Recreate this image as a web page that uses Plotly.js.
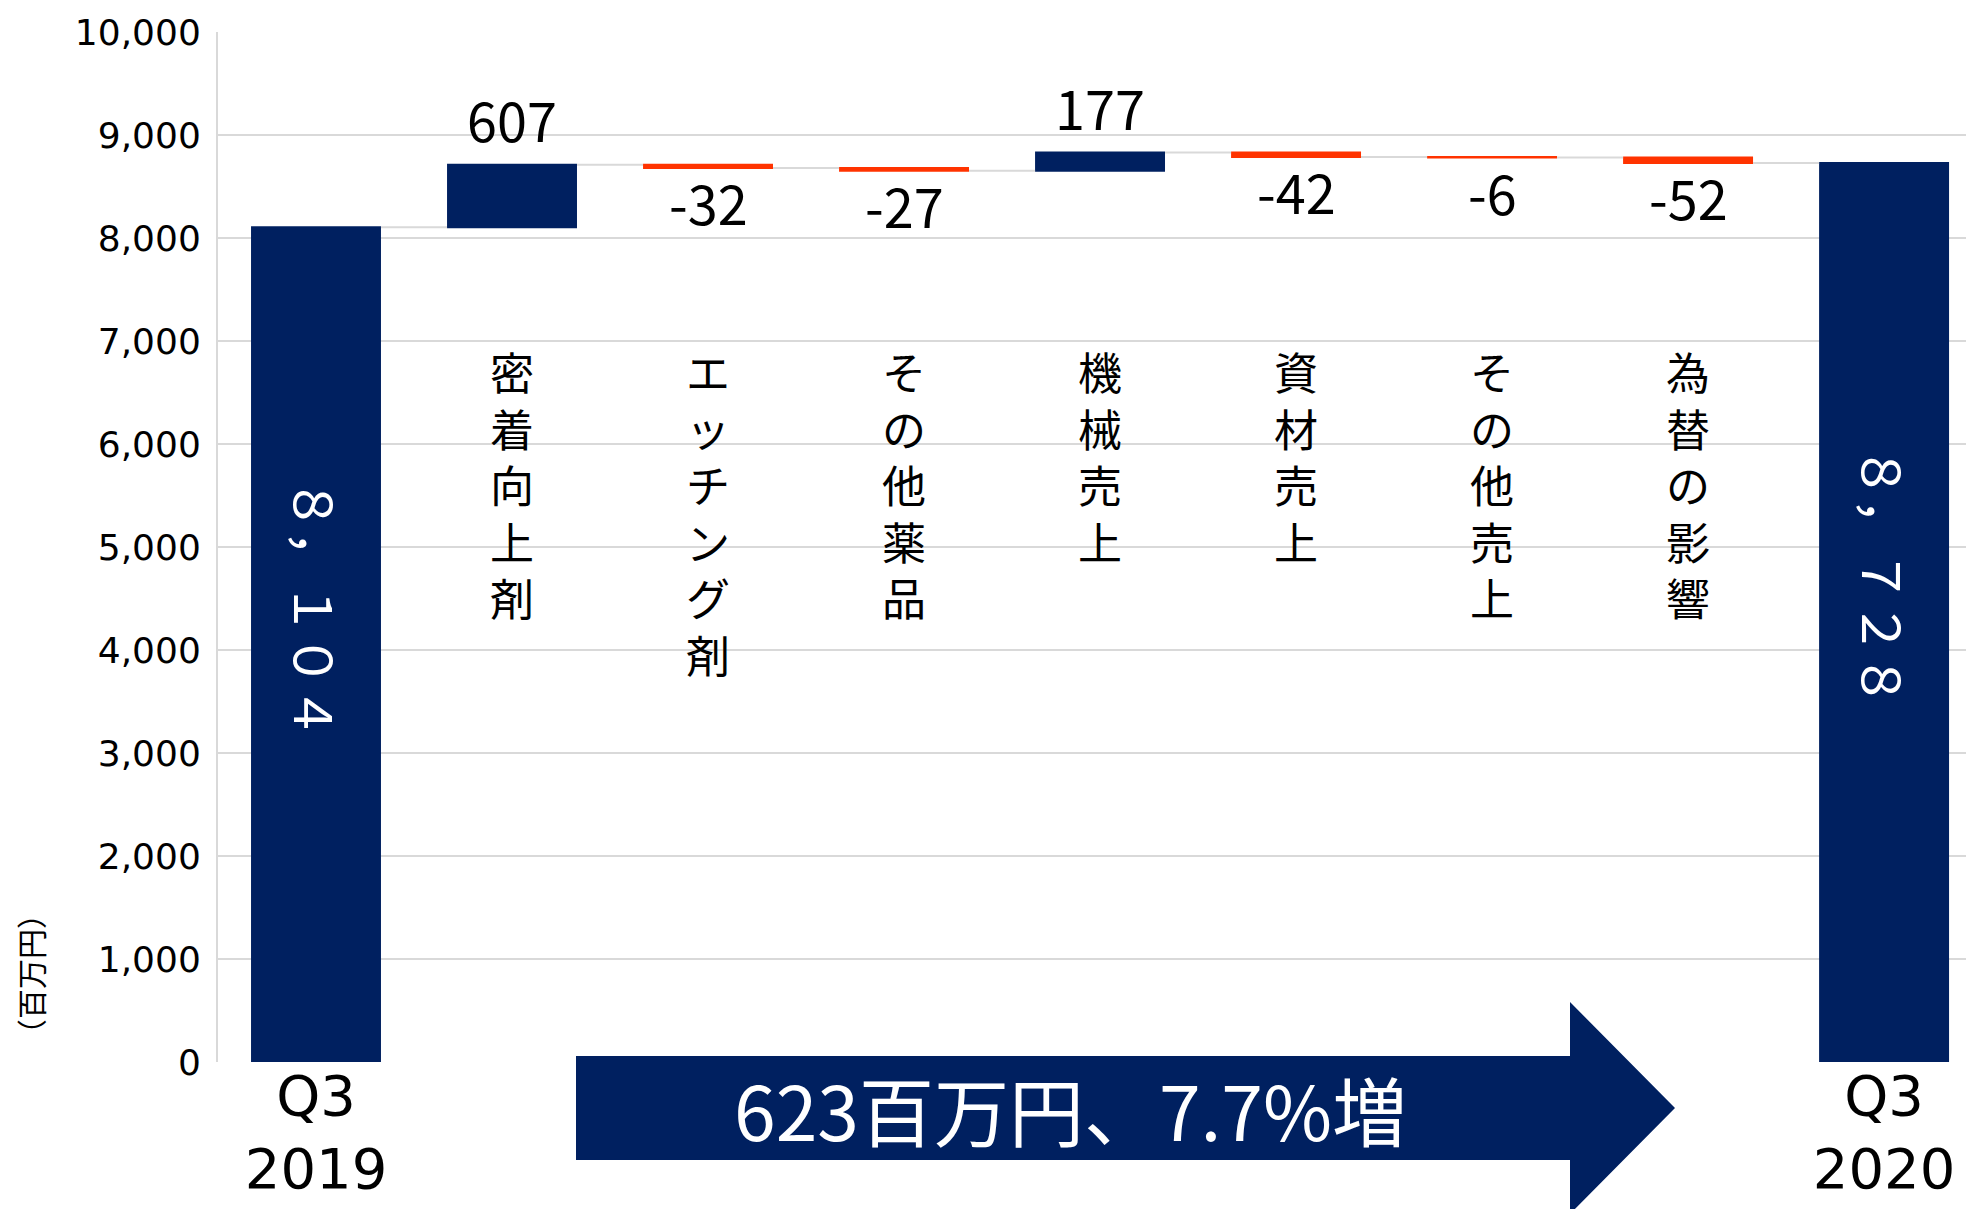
<!DOCTYPE html>
<html>
<head>
<meta charset="utf-8">
<script src="https://cdn.plot.ly/plotly-3.0.1.min.js"></script>
<style>html,body{margin:0;padding:0;background:#fff;}#chart{width:1966px;height:1209px;}</style>
</head>
<body>
<div id="chart"></div>
<script>
// ---- data ----
const categories = ['Q3 2019','密着向上剤','エッチング剤','その他薬品','機械売上','資材売上','その他売上','為替の影響','Q3 2020'];
const measures   = ['absolute','relative','relative','relative','relative','relative','relative','relative','total'];
const values     = [8104, 607, -32, -27, 177, -42, -6, -52, 0];
const barLabels  = ['', '607', '-32', '-27', '177', '-42', '-6', '-52', ''];
const totalLabels = ['８，１０４', '８，７２８'];
const tickText   = ['Q3<br>2019','','','','','','','','Q3<br>2020'];
const yTicks     = [0,1000,2000,3000,4000,5000,6000,7000,8000,9000,10000];
const arrowText  = '623百万円、7.7%増';
const unitText   = '（百万円）';

const NAVY = '#002060', RED = '#FF3300', GRID = '#d9d9d9';
const JP = '"Noto Sans CJK JP", "Noto Sans", sans-serif';
const DV = '"DejaVu Sans", Verdana, sans-serif';

// pixel helpers for decoration placement (plot area: x 218..1966, y 32..1062)
const L = 218, T = 32, W = 1748, H = 1030;
const px = x => (x - L) / W;
const py = y => (T + H - y) / H;

const trace = {
  type: 'waterfall',
  x: categories,
  y: values,
  measure: measures,
  textposition: 'none',
  cliponaxis: false,
  increasing: {marker: {color: NAVY}},
  decreasing: {marker: {color: RED}},
  totals: {marker: {color: NAVY}},
  connector: {mode: 'between', line: {color: GRID, width: 2}},
  hoverinfo: 'skip'
};

const annotations = [];

// running totals (bar ends) for labels
let run = 0;
const ends = [];
values.forEach((v, i) => {
  if (measures[i] === 'absolute') run = v;
  else if (measures[i] === 'relative') run += v;
  ends.push(run);
});

// value labels outside the relative bars
values.forEach((v, i) => {
  if (measures[i] !== 'relative') return;
  const up = v >= 0;
  annotations.push({
    x: categories[i], y: ends[i], xref: 'x', yref: 'y',
    text: barLabels[i], showarrow: false,
    xanchor: 'center', yanchor: up ? 'bottom' : 'top',
    yshift: up ? 5 : 8,
    font: {family: JP, size: 54, color: '#000'}
  });
});

// rotated labels in the total bars
const totalIdx = [0, categories.length - 1];
totalIdx.forEach((i, k) => {
  annotations.push({
    x: categories[i], y: ends[i] / 2, xref: 'x', yref: 'y',
    text: totalLabels[k], textangle: 90, showarrow: false,
    xanchor: 'center', yanchor: 'middle',
    yshift: 36,
    font: {family: JP, size: 52, color: '#fff'}
  });
});

// vertical (stacked) category labels
for (let i = 1; i < categories.length - 1; i++) {
  Array.from(categories[i]).forEach((ch, k) => {
    annotations.push({
      x: categories[i], xref: 'x', yref: 'paper', y: py(337), yanchor: 'top', xanchor: 'center',
      yshift: -k * 56.5,
      text: ch, showarrow: false,
      font: {family: JP, size: 44, color: '#000'}
    });
  });
}

// arrow text
annotations.push({
  xref: 'paper', yref: 'paper', x: px(1070), y: py(1108),
  text: arrowText, showarrow: false, xanchor: 'center', yanchor: 'middle',
  font: {family: JP, size: 75, color: '#fff'}
});
// unit label
annotations.push({
  xref: 'paper', yref: 'paper', x: px(30), y: py(974),
  xanchor: 'center', yanchor: 'middle',
  text: unitText, textangle: -90, showarrow: false,
  font: {family: JP, size: 30, color: '#000'}
});

const arrowPath = 'M ' + px(576) + ' ' + py(1056) +
  ' L ' + px(1570) + ' ' + py(1056) +
  ' L ' + px(1570) + ' ' + py(1002) +
  ' L ' + px(1675) + ' ' + py(1108) +
  ' L ' + px(1570) + ' ' + py(1214) +
  ' L ' + px(1570) + ' ' + py(1160) +
  ' L ' + px(576) + ' ' + py(1160) + ' Z';

const layout = {
  width: 1966, height: 1209,
  margin: {l: L, r: 0, t: T, b: 1209 - T - H, pad: 0},
  paper_bgcolor: '#fff', plot_bgcolor: '#fff',
  showlegend: false,
  waterfallgap: 0.337,
  xaxis: {
    type: 'category',
    range: [-0.5, 8.418],
    tickvals: categories, ticktext: tickText,
    tickfont: {family: DV, size: 56, color: '#000'},
    showgrid: false, zeroline: false, showline: false, ticks: '',
    ticklabelstandoff: -4,
    fixedrange: true
  },
  yaxis: {
    range: [0, 10000],
    tickvals: yTicks, tickformat: ',d',
    tickfont: {family: DV, size: 36, color: '#000'},
    showgrid: true, gridcolor: GRID, gridwidth: 2,
    zeroline: false, showline: true, linecolor: GRID, linewidth: 2,
    ticks: '', ticklabelstandoff: 8,
    fixedrange: true
  },
  shapes: [{
    type: 'path', xref: 'paper', yref: 'paper', path: arrowPath,
    fillcolor: NAVY, line: {width: 0}, layer: 'above'
  }],
  annotations: annotations
};

Plotly.newPlot('chart', [trace], layout, {displayModeBar: false, staticPlot: true});
</script>
</body>
</html>
